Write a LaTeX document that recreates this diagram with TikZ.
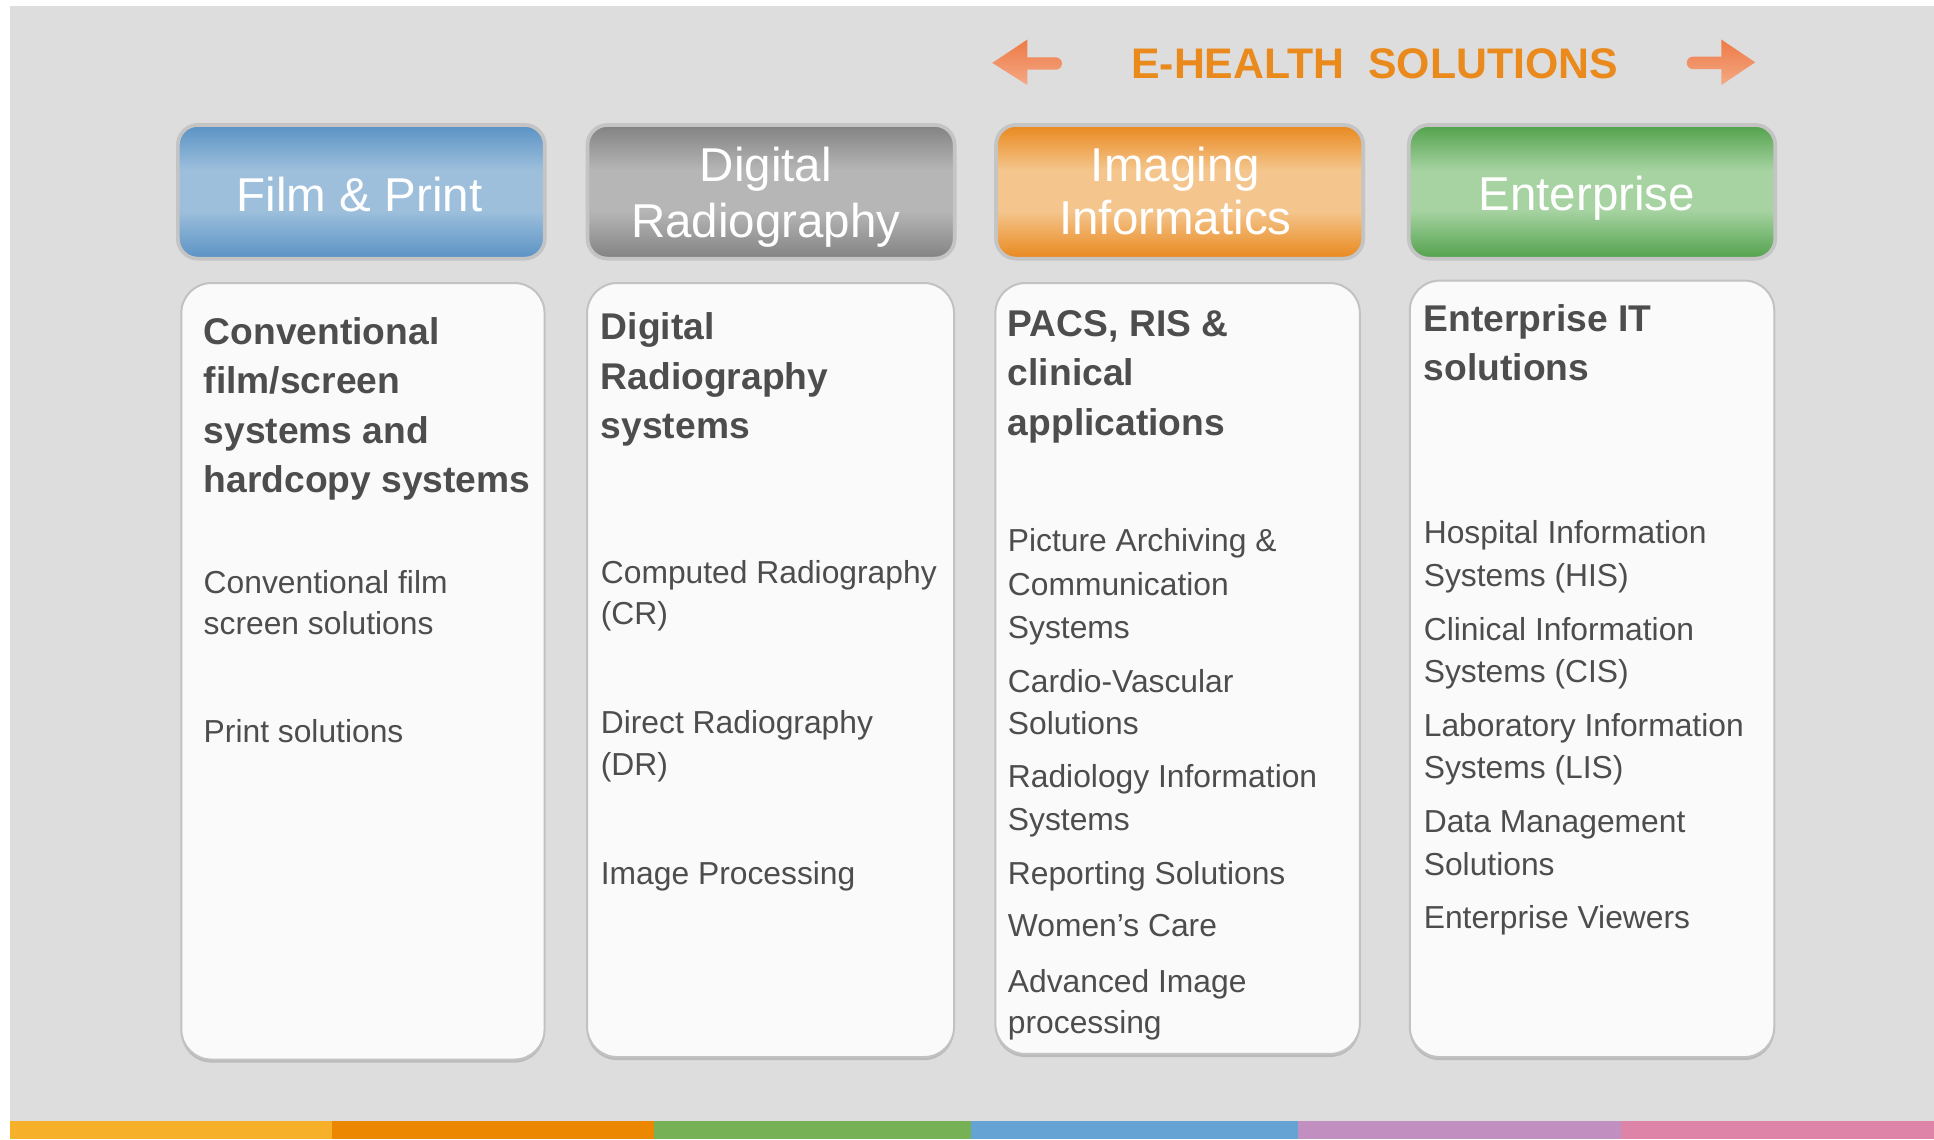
\documentclass[tikz,border=0pt]{standalone}
\usepackage{fontspec}
\setmainfont{Liberation Sans}
\definecolor{bgc}{HTML}{DDDDDD}
\definecolor{txtc}{HTML}{4D4D4D}
\definecolor{titlec}{HTML}{EB8A1C}
\definecolor{hbord}{HTML}{C4C4C4}
\definecolor{bbord}{HTML}{C2C2C2}
\definecolor{bfill}{HTML}{FAFAFA}
\definecolor{bshadow}{HTML}{BBBBBB}
\definecolor{bluD}{HTML}{5A92C4}
\definecolor{bluL}{HTML}{9DBFDC}
\definecolor{grayD}{HTML}{828282}
\definecolor{grayL}{HTML}{B6B6B6}
\definecolor{oraD}{HTML}{E9881D}
\definecolor{oraL}{HTML}{F4C68E}
\definecolor{grnD}{HTML}{52A14C}
\definecolor{grnL}{HTML}{A6D3A1}
\definecolor{arrT}{HTML}{EE7A46}
\definecolor{arrB}{HTML}{F4A985}
\definecolor{barA}{HTML}{F7B02A}
\definecolor{barB}{HTML}{EB8700}
\definecolor{barC}{HTML}{76B255}
\definecolor{barD}{HTML}{66A3D5}
\definecolor{barE}{HTML}{C190C0}
\definecolor{barF}{HTML}{DE84A9}
\pgfdeclareverticalshading{hblue}{100bp}{color(0bp)=(bluD); color(25bp)=(bluD); color(43bp)=(bluL); color(58bp)=(bluL); color(75bp)=(bluD); color(100bp)=(bluD)}
\pgfdeclareverticalshading{hgray}{100bp}{color(0bp)=(grayD); color(25bp)=(grayD); color(43bp)=(grayL); color(58bp)=(grayL); color(75bp)=(grayD); color(100bp)=(grayD)}
\pgfdeclareverticalshading{horange}{100bp}{color(0bp)=(oraD); color(25bp)=(oraD); color(43bp)=(oraL); color(58bp)=(oraL); color(75bp)=(oraD); color(100bp)=(oraD)}
\pgfdeclareverticalshading{hgreen}{100bp}{color(0bp)=(grnD); color(25bp)=(grnD); color(43bp)=(grnL); color(58bp)=(grnL); color(75bp)=(grnD); color(100bp)=(grnD)}
\begin{document}
\begin{tikzpicture}[x=1.2334pt,y=-1.2334pt,
  hdr/.style={draw=hbord, line width=3.7pt, rounded corners=20pt},
  card/.style={draw=bbord, line width=2pt, fill=bfill, rounded corners=30pt},
  cardshadow/.style={fill=bshadow, rounded corners=30pt},
  htext/.style={text=white, font=\fontsize{47.5pt}{56pt}\selectfont, inner sep=0pt, anchor=base},
  btitle/.style={text=txtc, font=\fontsize{37.2pt}{44pt}\selectfont\bfseries, inner sep=0pt, anchor=base west},
  bitem/.style={text=txtc, font=\fontsize{31.8pt}{38pt}\selectfont, inner sep=0pt, anchor=base west},
  ehead/.style={text=titlec, font=\fontsize{42.8pt}{50pt}\selectfont\bfseries, inner sep=0pt, anchor=base west},
  arrowfill/.style={top color=arrT, bottom color=arrB}
]
\useasboundingbox (0,0) rectangle (1568,923.46);
% background
\fill[white] (0,0) rectangle (1568,923.46);
\fill[bgc] (8,4.6) rectangle (1568,908.9);
% colour bar
\fill[barA] (8,908.9) rectangle (269,923.46);
\fill[barB] (269,908.9) rectangle (530,923.46);
\fill[barC] (530,908.9) rectangle (787,923.46);
\fill[barD] (787,908.9) rectangle (1052,923.46);
\fill[barE] (1052,908.9) rectangle (1314,923.46);
\fill[barF] (1314,908.9) rectangle (1568,923.46);

% title and arrows
\shade[arrowfill] (804.5,51) -- (833,32) -- (833,46.5) -- (856,46.5)
  arc[start angle=90, end angle=-90, radius=6.17pt] -- (833,56.5) -- (833,69) -- cycle;
\shade[arrowfill] (1423,50.5) -- (1395.5,32) -- (1395.5,46) -- (1372.5,46)
  arc[start angle=90, end angle=270, radius=6.17pt] -- (1395.5,56) -- (1395.5,69) -- cycle;
\node[ehead] (title) at (917,63.5) {E-HEALTH~~SOLUTIONS};

% header boxes
\path[hdr, shading=hblue]   (144.2,101.3) rectangle (441.7,209.7);
\path[hdr, shading=hgray]   (476.3,101.3) rectangle (774,209.7);
\path[hdr, shading=horange] (807.5,101.3) rectangle (1105.3,209.7);
\path[hdr, shading=hgreen]  (1142.2,101.3) rectangle (1439.3,209.7);
\node[htext] (h1) at (291.5,171.6) {Film \& Print};
\node[htext] (h2a) at (621,147.3) {Digital};
\node[htext] (h2b) at (621,192.5) {Radiography};
\node[htext] (h3a) at (953,147.3) {Imaging};
\node[htext] (h3b) at (953,190) {Informatics};
\node[htext] (h4) at (1286.5,170.5) {Enterprise};

% cards
\fill[cardshadow] (147,232) rectangle (441.5,861.5);
\fill[cardshadow] (476,232) rectangle (773.5,859.5);
\fill[cardshadow] (807,232) rectangle (1102.5,857);
\fill[cardshadow] (1143,230) rectangle (1438.5,859.5);
\path[card] (147,229.5) rectangle (441.5,859);
\path[card] (476,229.5) rectangle (773.5,857);
\path[card] (807,229.5) rectangle (1102.5,854.5);
\path[card] (1143,227.5) rectangle (1438.5,857);

% column 1
\node[btitle] (c1t1) at (165,279) {Conventional};
\node[btitle] (c1t2) at (165,319.3) {film/screen};
\node[btitle] (c1t3) at (165,359.4) {systems and};
\node[btitle] (c1t4) at (165,399.5) {hardcopy systems};
\node[bitem] (c1i1) at (165,481) {Conventional film};
\node[bitem] (c1i2) at (165,514.8) {screen solutions};
\node[bitem] (c1i3) at (165,602.1) {Print solutions};

% column 2
\node[btitle] (c2t1) at (487,275.5) {Digital};
\node[btitle] (c2t2) at (487,315.7) {Radiography};
\node[btitle] (c2t3) at (487,355.9) {systems};
\node[bitem] (c2i1) at (487,473) {Computed Radiography};
\node[bitem] (c2i2) at (487,506.5) {(CR)};
\node[bitem] (c2i3) at (487,595) {Direct Radiography};
\node[bitem] (c2i4) at (487,629) {(DR)};
\node[bitem] (c2i5) at (487,717) {Image Processing};

% column 3
\node[btitle] (c3t1) at (817,272.5) {PACS, RIS \&};
\node[btitle] (c3t2) at (817,312.7) {clinical};
\node[btitle] (c3t3) at (817,352.9) {applications};
\node[bitem] (c3i1) at (817,447.3) {Picture Archiving \&};
\node[bitem] (c3i2) at (817,482.8) {Communication};
\node[bitem] (c3i3) at (817,517.5) {Systems};
\node[bitem] (c3i4) at (817,561.3) {Cardio-Vascular};
\node[bitem] (c3i5) at (817,595.3) {Solutions};
\node[bitem] (c3i6) at (817,638.5) {Radiology Information};
\node[bitem] (c3i7) at (817,673.5) {Systems};
\node[bitem] (c3i8) at (817,717.5) {Reporting Solutions};
\node[bitem] (c3i9) at (817,759.4) {Women’s Care};
\node[bitem] (c3i10) at (817,804.5) {Advanced Image};
\node[bitem] (c3i11) at (817,837.8) {processing};

% column 4
\node[btitle] (c4t1) at (1154.2,268.5) {Enterprise IT};
\node[btitle] (c4t2) at (1154.2,308.7) {solutions};
\node[bitem] (c4i1) at (1154.2,441) {Hospital Information};
\node[bitem] (c4i2) at (1154.2,475.1) {Systems (HIS)};
\node[bitem] (c4i3) at (1154.2,519.4) {Clinical Information};
\node[bitem] (c4i4) at (1154.2,553.5) {Systems (CIS)};
\node[bitem] (c4i5) at (1154.2,597.3) {Laboratory Information};
\node[bitem] (c4i6) at (1154.2,631) {Systems (LIS)};
\node[bitem] (c4i7) at (1154.2,674.8) {Data Management};
\node[bitem] (c4i8) at (1154.2,709.4) {Solutions};
\node[bitem] (c4i9) at (1154.2,752.6) {Enterprise Viewers};
\end{tikzpicture}
\end{document}
